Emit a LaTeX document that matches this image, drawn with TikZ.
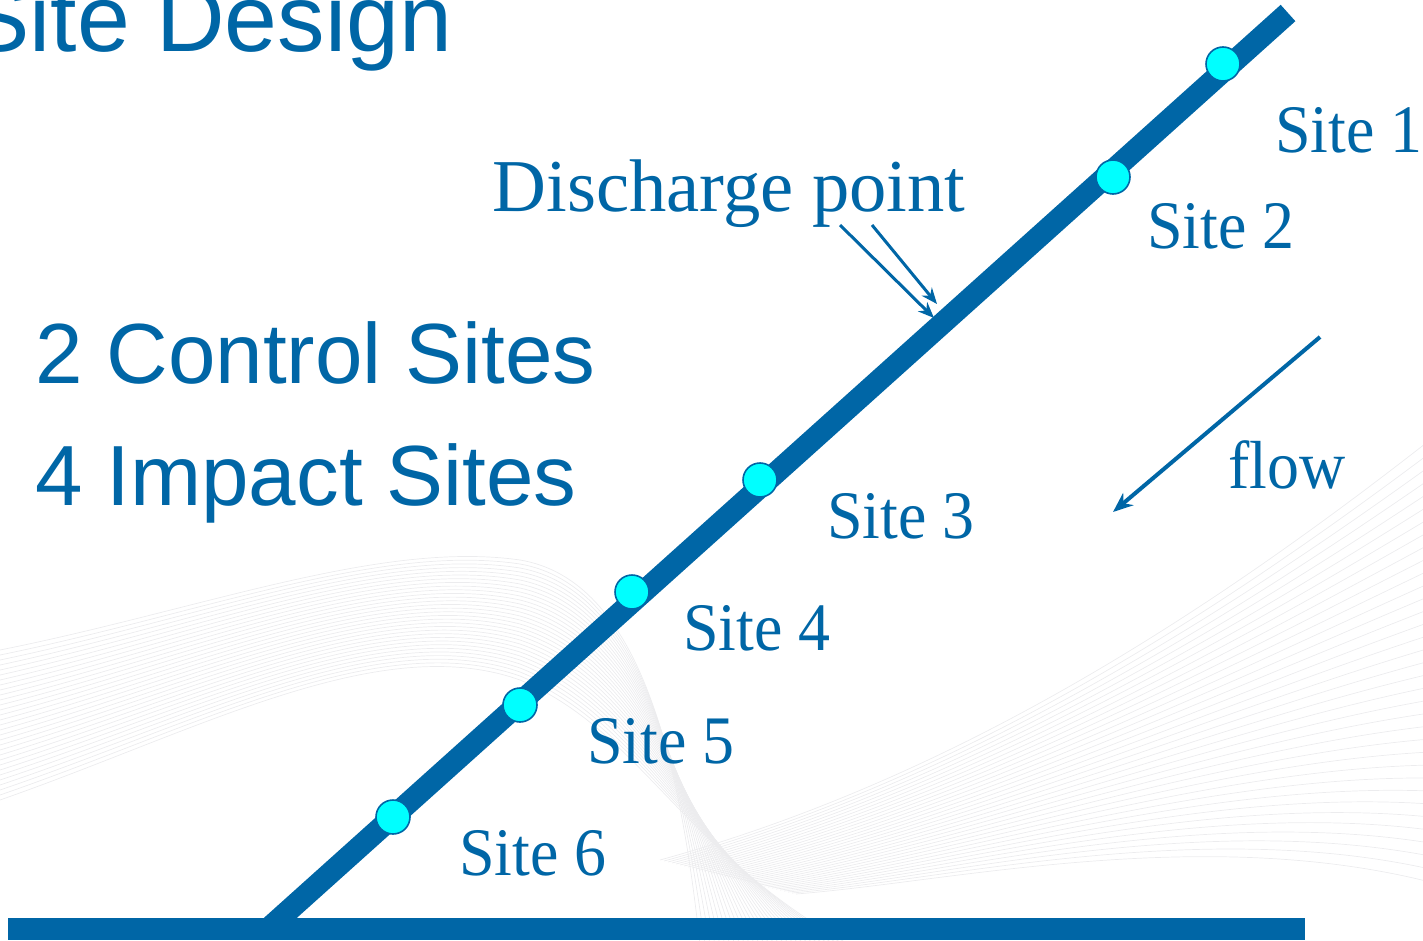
\documentclass[tikz,border=0pt]{standalone}
\usepackage{fontspec}
\usepackage{graphicx}
\setmainfont{Liberation Serif}
\newfontfamily\arialfont{Liberation Sans}
\usetikzlibrary{arrows.meta}
\definecolor{dkblue}{RGB}{0,102,166}
\definecolor{sitecyan}{RGB}{0,255,255}
\definecolor{wavegray}{RGB}{236,236,238}
\newcommand{\cond}[1]{\scalebox{0.94}[1]{#1}}
\tikzset{
  titletext/.style={font=\arialfont\fontsize{47.5pt}{50pt}\selectfont, text=dkblue, anchor=base west, inner sep=0pt},
  bigtext/.style={font=\arialfont\fontsize{42.7pt}{46pt}\selectfont, text=dkblue, anchor=base west, inner sep=0pt},
  disctext/.style={font=\fontsize{37.3pt}{40pt}\selectfont, text=dkblue, anchor=base west, inner sep=0pt},
  sitetext/.style={font=\fontsize{34pt}{37pt}\selectfont, text=dkblue, anchor=base west, inner sep=0pt},
  sitedot/.style={circle, fill=sitecyan, draw=dkblue, line width=0.8pt, minimum size=17pt, inner sep=0pt},
  river/.style={draw=dkblue, line width=11pt},
  ptr/.style={draw=dkblue, line width=1.5pt, -{Stealth[length=8pt, width=6.5pt]}},
  flowptr/.style={draw=dkblue, line width=2pt, -{Stealth[length=10pt, width=8pt]}},
  wave/.style={draw=wavegray, line width=0.35pt}
}
\begin{document}
\begin{tikzpicture}[x=0.5pt,y=-0.5pt]
\useasboundingbox (0,0) rectangle (1423,941);
\clip (0,0) rectangle (1423,941);
% decorative background waves
\foreach \i in {0,...,34}{
  \draw[wave] (660+4*\i, 860+1*\i) .. controls (950, 780+3*\i) and (1200, 620+6*\i) .. (1430, 440+13*\i);
}
\foreach \i in {0,...,30}{
  \draw[wave] (0, 650+5*\i) .. controls (200, 610+4*\i) and (380, 540+3*\i) .. (520, 560+4*\i)
     .. controls (640, 580+5*\i) and (680, 760+3*\i) .. (700+5*\i, 945);
}
% coordinates of the river
\coordinate (top) at (1288,13);
\coordinate (bot) at (268,929);
\coordinate (hl) at (8,929);
\coordinate (hr) at (1305,929);
\draw[river] (bot) -- (top);
\draw[river] (hl) -- (hr);
% sites
\node[sitedot] (s1) at (1223,64) {};
\node[sitedot] (s2) at (1113,177) {};
\node[sitedot] (s3) at (760,480) {};
\node[sitedot] (s4) at (632,592) {};
\node[sitedot] (s5) at (520,705) {};
\node[sitedot] (s6) at (393,817) {};
% texts
\node[titletext] (title) at (-34,52) {Site Design};
\node[bigtext] (ctrl) at (35,383) {2 Control Sites};
\node[bigtext] (imp) at (35,505) {4 Impact Sites};
\node[disctext] (disc) at (492,212) {Discharge point};
\node[sitetext] (l1) at (1275,153) {\cond{Site 1}};
\node[sitetext] (l2) at (1147,249) {\cond{Site 2}};
\node[sitetext] (l3) at (827,538) {\cond{Site 3}};
\node[sitetext] (l4) at (683,650) {\cond{Site 4}};
\node[sitetext] (l5) at (587,763) {\cond{Site 5}};
\node[sitetext] (l6) at (459,875) {\cond{Site 6}};
\node[sitetext] (fl) at (1228,488) {\cond{flow}};
% discharge arrows
\coordinate (d1s) at (840,225);
\coordinate (d1e) at (934,318);
\coordinate (d2s) at (872,225);
\coordinate (d2e) at (937,304);
\draw[ptr] (d1s) -- (d1e);
\draw[ptr] (d2s) -- (d2e);
% flow arrow
\coordinate (fs) at (1320,337);
\coordinate (fe) at (1113,512);
\draw[flowptr] (fs) -- (fe);
\end{tikzpicture}
\end{document}
